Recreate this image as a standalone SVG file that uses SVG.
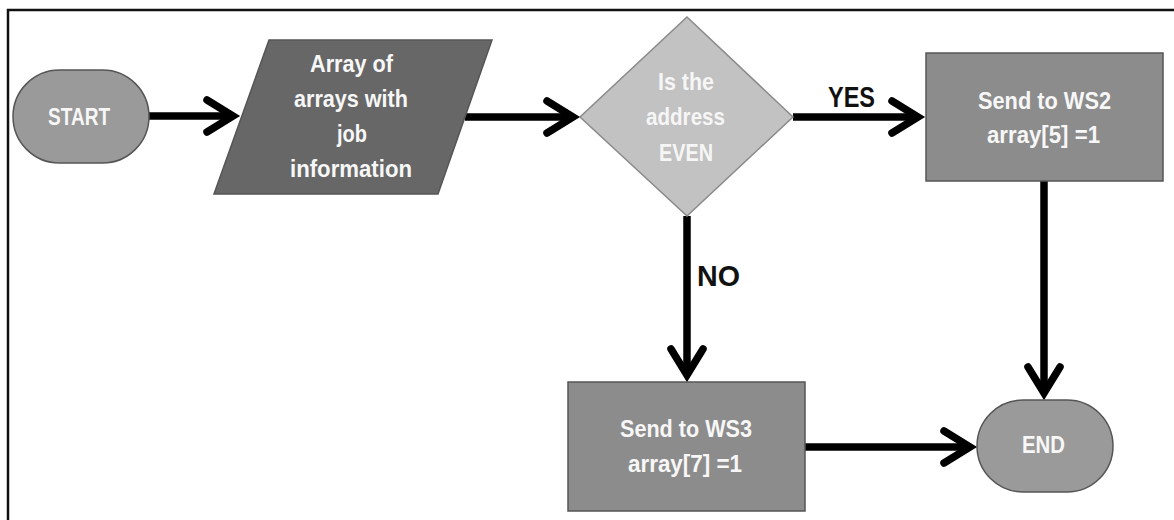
<svg xmlns="http://www.w3.org/2000/svg" width="1174" height="520" viewBox="0 0 1174 520">
  <style>
    .frame { stroke: #111; stroke-width: 2.5; fill: none; }
    .shape { stroke: #555; stroke-width: 1.5; }
    .term { fill: #9a9a9a; }
    .io { fill: #676767; }
    .dec { fill: #c2c2c2; stroke: #8a8a8a; }
    .proc { fill: #8c8c8c; }
    .lbl { font-family: "Liberation Sans", Arial, sans-serif; font-weight: bold; font-size: 24.5px; fill: #f7f7f7; }
    .dlbl { fill: #f6f6f6; }
    .edge-lbl { font-family: "Liberation Sans", Arial, sans-serif; font-weight: bold; font-size: 30px; fill: #111; }
    .conn { stroke: #000; stroke-width: 7.5; fill: none; }
  </style>
  <defs>
    <marker id="chev" markerUnits="userSpaceOnUse" viewBox="-40 -25 50 50" markerWidth="50" markerHeight="50" refX="0" refY="0" orient="auto" overflow="visible">
      <path d="M-26,-16 L0,0 L-26,16" fill="none" stroke="#000" stroke-width="7.5" stroke-linecap="round" stroke-linejoin="miter"/>
    </marker>
  </defs>

  <rect width="1174" height="520" fill="#fff"/>
  <!-- outer frame: top and left edges -->
  <path class="frame" d="M8,530 L8,10 L1180,10"/>

  <g id="connectors">
    <path class="conn" d="M149,116 L233,116" marker-end="url(#chev)"/>
    <path class="conn" d="M465,117 L573,117" marker-end="url(#chev)"/>
    <path class="conn" d="M793,117 L918,117" marker-end="url(#chev)"/>
    <path class="conn" d="M687,216 L687,375" marker-end="url(#chev)"/>
    <path class="conn" d="M1044,181 L1044,393" marker-end="url(#chev)"/>
    <path class="conn" d="M805,447 L970,447" marker-end="url(#chev)"/>
    <text class="edge-lbl" x="828" y="107" textLength="47" lengthAdjust="spacingAndGlyphs">YES</text>
    <text class="edge-lbl" x="697" y="286" textLength="43" lengthAdjust="spacingAndGlyphs">NO</text>
  </g>

  <g id="start">
    <rect class="shape term" x="13" y="70" width="136" height="93" rx="46.5" ry="46.5"/>
    <text class="lbl" x="48" y="125" textLength="62" lengthAdjust="spacingAndGlyphs">START</text>
  </g>

  <g id="job-input">
    <polygon class="shape io" points="269,40 492,40 438,194 214,194"/>
    <text class="lbl" x="310" y="72" textLength="83" lengthAdjust="spacingAndGlyphs">Array of</text>
    <text class="lbl" x="294" y="107" textLength="114" lengthAdjust="spacingAndGlyphs">arrays with</text>
    <text class="lbl" x="337" y="142" textLength="30" lengthAdjust="spacingAndGlyphs">job</text>
    <text class="lbl" x="290" y="177" textLength="122" lengthAdjust="spacingAndGlyphs">information</text>
  </g>

  <g id="address-even">
    <polygon class="shape dec" points="687,17 793,117 687,216 580,117"/>
    <text class="lbl dlbl" x="658" y="90" textLength="56" lengthAdjust="spacingAndGlyphs">Is the</text>
    <text class="lbl dlbl" x="646" y="125" textLength="79" lengthAdjust="spacingAndGlyphs">address</text>
    <text class="lbl dlbl" x="659" y="161" textLength="54" lengthAdjust="spacingAndGlyphs">EVEN</text>
  </g>

  <g id="send-ws2">
    <rect class="shape proc" x="926" y="53" width="237" height="128"/>
    <text class="lbl" x="978" y="109" textLength="133" lengthAdjust="spacingAndGlyphs">Send to WS2</text>
    <text class="lbl" x="987" y="143" textLength="113" lengthAdjust="spacingAndGlyphs">array[5] =1</text>
  </g>

  <g id="send-ws3">
    <rect class="shape proc" x="568" y="382" width="237" height="129"/>
    <text class="lbl" x="620" y="437" textLength="132" lengthAdjust="spacingAndGlyphs">Send to WS3</text>
    <text class="lbl" x="628" y="472" textLength="114" lengthAdjust="spacingAndGlyphs">array[7] =1</text>
  </g>

  <g id="end">
    <rect class="shape term" x="977" y="400" width="136" height="92" rx="46" ry="46"/>
    <text class="lbl" x="1022" y="453" textLength="43" lengthAdjust="spacingAndGlyphs">END</text>
  </g>
</svg>
